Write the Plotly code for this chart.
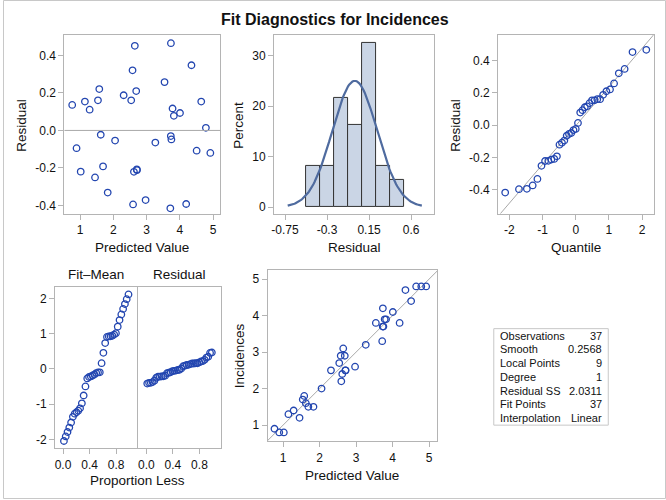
import plotly.graph_objects as go
from statistics import NormalDist
import numpy as np

# ---------------- data ----------------
predicted = [0.764, 0.895, 1.020, 1.146, 1.289, 1.451, 1.539, 1.579, 1.623, 1.692,
             1.832, 2.054, 2.312, 2.539, 2.579, 2.595, 2.621, 2.648, 2.690, 2.712,
             2.708, 2.972, 3.265, 3.542, 3.716, 3.734, 3.730, 3.748, 3.783, 3.822,
             4.007, 4.193, 4.352, 4.508, 4.646, 4.786, 4.920]
incidences = [0.9, 0.8, 0.8, 1.3, 1.4, 1.2, 1.7, 1.8, 1.6, 1.5,
              1.5, 2.0, 2.5, 2.7, 2.9, 2.2, 2.4, 3.1, 2.9, 2.5,
              2.5, 2.6, 3.2, 3.8, 3.3, 4.2, 3.7, 3.7, 3.9, 3.9,
              4.1, 3.8, 4.7, 4.4, 4.8, 4.8, 4.8]

stat_labels = ["Observations", "Smooth", "Local Points", "Degree",
               "Residual SS", "Fit Points", "Interpolation"]
stat_values = ["37", "0.2568", "9", "1", "2.0311", "37", "Linear"]

title_text = "Fit Diagnostics for Incidences"

# tick labels
res_ticks = [-0.4, -0.2, 0.0, 0.2, 0.4]
res_ticktext = ["-0.4", "-0.2", "0.0", "0.2", "0.4"]
pred_ticks = [1, 2, 3, 4, 5]
hist_ticks = [-0.75, -0.3, 0.15, 0.6]
hist_ticktext = ["-0.75", "-0.3", "0.15", "0.6"]
pct_ticks = [0, 10, 20, 30]
q_ticks = [-2, -1, 0, 1, 2]
q_ticktext = ["-2", "-1", "0", "1", "2"]
prop_ticks = [0.0, 0.4, 0.8]
prop_ticktext = ["0.0", "0.4", "0.8"]

# ---------------- derived ----------------
pred = np.array(predicted)
inc = np.array(incidences)
resid = inc - pred
n = len(resid)
mu = resid.mean()
sd = resid.std(ddof=1)

nd = NormalDist()
order_res = np.sort(resid)
qq = np.array([nd.inv_cdf((i - 0.375) / (n + 0.25)) for i in range(1, n + 1)])
prop = (np.arange(1, n + 1) - 0.5) / n
fit_mean = np.sort(pred - inc.mean())

xs = np.linspace(mu - 3 * sd, mu + 3 * sd, 121)
dens = 100 * 0.15 * np.exp(-0.5 * ((xs - mu) / sd) ** 2) / (sd * np.sqrt(2 * np.pi))

# ---------------- styling ----------------
W, H = 666, 500
FONT = "Liberation Sans, Arial, sans-serif"
MCOL = "#2346b0"
AXCOL = "#b4b4b4"
REFCOL = "#a8a8a8"


def px(x):
    return x / W


def py(y):
    return 1 - y / H


marker = dict(symbol="circle-open", size=6.5, color=MCOL, line=dict(width=1.3, color=MCOL))


def axis(domain, rng, tickvals, ticktext=None, anchor=None, showlabels=True):
    d = dict(domain=domain, range=rng, tickvals=tickvals, showline=True, mirror=True,
             linecolor=AXCOL, linewidth=1, ticks="outside", ticklen=5, tickcolor=AXCOL,
             showgrid=False, zeroline=False, tickfont=dict(size=12, color="#111", family=FONT),
             showticklabels=showlabels, fixedrange=True)
    if ticktext:
        d["ticktext"] = ticktext
    if anchor:
        d["anchor"] = anchor
    return d


fig = go.Figure()

# Panel 1: residual vs predicted
fig.add_trace(go.Scatter(x=pred, y=resid, mode="markers", marker=marker, xaxis="x", yaxis="y"))

# Panel 2: histogram
fig.add_trace(go.Histogram(x=resid, xbins=dict(start=-0.525, end=0.525, size=0.15),
                           histnorm="percent", marker=dict(color="#cad5e5", line=dict(color="#333", width=1)),
                           xaxis="x2", yaxis="y2"))
fig.add_trace(go.Scatter(x=xs, y=dens, mode="lines", line=dict(color="#4f6b9f", width=2.2),
                         xaxis="x2", yaxis="y2"))

# Panel 3: QQ
qline = np.array([-3.0, 3.0])
fig.add_trace(go.Scatter(x=qline, y=mu + sd * qline, mode="lines", line=dict(color=REFCOL, width=1),
                         xaxis="x3", yaxis="y3"))
fig.add_trace(go.Scatter(x=qq, y=order_res, mode="markers", marker=marker, xaxis="x3", yaxis="y3"))

# Panel 4: RF spread
fig.add_trace(go.Scatter(x=prop, y=fit_mean, mode="markers", marker=marker, xaxis="x4", yaxis="y4"))
fig.add_trace(go.Scatter(x=prop, y=order_res, mode="markers", marker=marker, xaxis="x5", yaxis="y5"))

# Panel 5: observed vs predicted
dl = np.array([0.0, 6.0])
fig.add_trace(go.Scatter(x=dl, y=dl, mode="lines", line=dict(color=REFCOL, width=1), xaxis="x6", yaxis="y6"))
fig.add_trace(go.Scatter(x=pred, y=inc, mode="markers", marker=marker, xaxis="x6", yaxis="y6"))

top_dom = [py(214), py(35)]
bot_dom = [py(449), py(287.3)]

fig.update_layout(
    width=W, height=H, margin=dict(l=0, r=0, t=0, b=0),
    paper_bgcolor="white", plot_bgcolor="white", showlegend=False,
    font=dict(family=FONT, color="#111"),
    bargap=0,
    xaxis=axis([px(61.7), px(218.3)], [0.53, 5.22], pred_ticks, anchor="y"),
    yaxis=axis(top_dom, [-0.444, 0.51], res_ticks, res_ticktext, anchor="x"),
    xaxis2=axis([px(272.3), px(433.3)], [-0.867, 0.849], hist_ticks, hist_ticktext, anchor="y2"),
    yaxis2=axis(top_dom, [-1.3, 34.1], pct_ticks, anchor="x2"),
    xaxis3=axis([px(497.3), px(653.7)], [-2.34, 2.35], q_ticks, q_ticktext, anchor="y3"),
    yaxis3=axis(top_dom, [-0.546, 0.558], res_ticks, res_ticktext, anchor="x3"),
    xaxis4=axis([px(52.3), px(134.3)], [-0.12, 1.11], prop_ticks, prop_ticktext, anchor="y4"),
    yaxis4=axis(bot_dom, [-2.245, 2.33], q_ticks, q_ticktext, anchor="x4"),
    xaxis5=axis([px(136), px(218.7)], [-0.12, 1.12], prop_ticks, prop_ticktext, anchor="y5"),
    yaxis5=axis(bot_dom, [-2.245, 2.33], q_ticks, q_ticktext, anchor="x5", showlabels=False),
    xaxis6=axis([px(265.7), px(436)], [0.573, 5.218], pred_ticks, anchor="y6"),
    yaxis6=axis([py(442.3), py(270.7)], [0.553, 5.246], pred_ticks, anchor="x6"),
)
fig.update_layout(yaxis5=dict(ticks=""))

shapes = [
    dict(type="line", xref="x domain", yref="y", x0=0, x1=1, y0=0, y1=0,
         line=dict(color=REFCOL, width=1)),
    dict(type="rect", xref="paper", yref="paper", x0=px(493), x1=px(608), y0=py(426), y1=py(329.3),
         line=dict(color="#c8c8c8", width=1)),
    dict(type="rect", xref="paper", yref="paper", x0=px(0.5), x1=px(665.5), y0=py(499.5), y1=py(0.5),
         line=dict(color="#c8c8c8", width=1)),
]
fig.update_layout(shapes=shapes)

ann = []


def label(text, x, y, size=13.5, angle=0, xanchor="center", bold=False):
    ann.append(dict(text=f"<b>{text}</b>" if bold else text, x=px(x), y=py(y), xref="paper", yref="paper",
                    showarrow=False, xanchor=xanchor, yanchor="middle", textangle=angle,
                    font=dict(size=size, family=FONT, color="#111")))


label(title_text, 333, 20, size=16, bold=True)
label("Residual", 19, 125, angle=-90)
label("Predicted Value", 140, 248)
label("Percent", 237, 125, angle=-90)
label("Residual", 353, 248)
label("Residual", 455, 125, angle=-90)
label("Quantile", 575.5, 248)
label("Fit\u2013Mean", 93.3, 275)
label("Residual", 177.3, 275)
label("Proportion Less", 135.5, 481)
label("Incidences", 237, 356, angle=-90)
label("Predicted Value", 351, 476)

for i, (lab, val) in enumerate(zip(stat_labels, stat_values)):
    yc = 329.3 + 13.8 * (i + 0.5)
    label(lab, 497, yc, size=11, xanchor="left")
    label(val, 604, yc, size=11, xanchor="right")

fig.update_layout(annotations=ann)

fig.write_html("out.html")
